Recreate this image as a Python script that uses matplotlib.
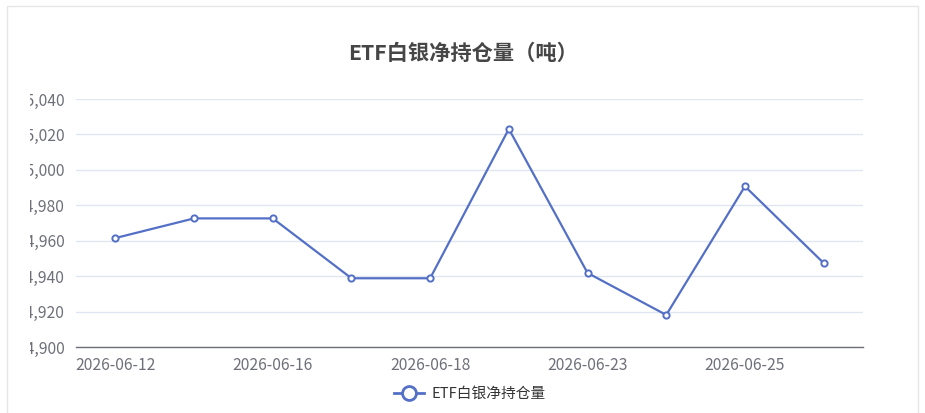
import matplotlib
matplotlib.use("Agg")
import matplotlib.pyplot as plt
from matplotlib.lines import Line2D
from matplotlib.patches import Rectangle
from matplotlib.ticker import FuncFormatter

plt.rcParams['font.family'] = ['Noto Sans CJK SC', 'DejaVu Sans']

# data
dates = ["2026-06-12", "2026-06-15", "2026-06-16", "2026-06-17", "2026-06-18",
         "2026-06-19", "2026-06-23", "2026-06-24", "2026-06-25", "2026-06-26"]
holdings = [14961.5, 14972.6, 14972.6, 14938.8, 14938.8,
            15023.1, 14941.8, 14918.1, 14990.7, 14947.4]
y_ticks = [14900, 14920, 14940, 14960, 14980, 15000, 15020, 15040]

title = "ETF白银净持仓量（吨）"
series_name = "ETF白银净持仓量"

line_color = "#5470c6"
label_color = "#6e7079"
grid_color = "#e0e6f1"

W, H = 925, 413
fig = plt.figure(figsize=(W / 100, H / 100), dpi=100)
fig.patch.set_facecolor("white")

ax = fig.add_axes([76 / W, 1 - 347 / H, (863 - 76) / W, (347 - 99) / H])
x = list(range(len(dates)))
ax.plot(x, holdings, color=line_color, lw=1.6, marker="o", ms=4.5,
        mfc="white", mec=line_color, mew=1.4, zorder=3)

ax.set_xlim(-0.5, len(dates) - 0.5)
ax.set_ylim(y_ticks[0], y_ticks[-1])
ax.set_yticks(y_ticks)
ax.yaxis.set_major_formatter(FuncFormatter(lambda v, p: f"{int(v):,}"))
ax.set_xticks(x)
ax.set_xticklabels([d if i % 2 == 0 else "" for i, d in enumerate(dates)])

ax.grid(axis="y", color=grid_color, lw=1)
ax.set_axisbelow(True)
for s in ["top", "right", "left"]:
    ax.spines[s].set_visible(False)
ax.spines["bottom"].set_color(label_color)
ax.spines["bottom"].set_linewidth(1)
ax.tick_params(axis="both", length=0, labelsize=11.3, labelcolor=label_color)
ax.tick_params(axis="x", pad=7)
ax.tick_params(axis="y", pad=8)

fig.text(463 / W, 1 - 53 / H, title, ha="center", va="center",
         fontsize=15.3, fontweight="bold", color="#464646")

handle = Line2D([], [], color=line_color, lw=2, marker="o", ms=10,
                mfc="white", mec=line_color, mew=2)
leg = fig.legend([handle], [series_name], loc="center",
                 bbox_to_anchor=(470 / W, 1 - 394 / H), frameon=False,
                 fontsize=10.6, handlelength=2.0, handletextpad=0.5)
for t in leg.get_texts():
    t.set_color("#333333")

# the original canvas cuts off the leading digits of the y labels
fig.add_artist(Rectangle((7 / W, 1 - 358 / H), 23 / W, 270 / H,
                         transform=fig.transFigure, facecolor="white",
                         edgecolor="none", zorder=10))
# container border
fig.add_artist(Line2D([6.5 / W, 6.5 / W, 917.5 / W, 917.5 / W],
                      [0, 1 - 5.5 / H, 1 - 5.5 / H, 0],
                      transform=fig.transFigure, color="#e6e6e6", lw=1,
                      zorder=11))

fig.savefig("out.png", dpi=100)
